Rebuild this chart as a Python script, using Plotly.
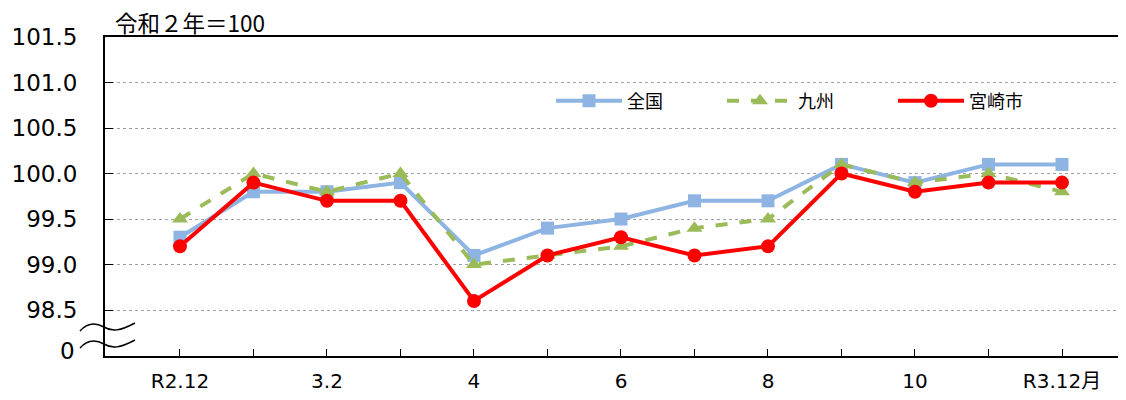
import plotly.graph_objects as go

categories = ["R2.12", "1", "3.2", "3", "4", "5", "6", "7", "8", "9", "10", "11", "R3.12月"]
tick_labels = ["R2.12", "", "3.2", "", "4", "", "6", "", "8", "", "10", "", "R3.12月"]
zenkoku = [99.3, 99.8, 99.8, 99.9, 99.1, 99.4, 99.5, 99.7, 99.7, 100.1, 99.9, 100.1, 100.1]
kyushu = [99.5, 100.0, 99.8, 100.0, 99.0, 99.1, 99.2, 99.4, 99.5, 100.1, 99.9, 100.0, 99.8]
miyazaki = [99.2, 99.9, 99.7, 99.7, 98.6, 99.1, 99.3, 99.1, 99.2, 100.0, 99.8, 99.9, 99.9]
y_ticks = [98.5, 99.0, 99.5, 100.0, 100.5, 101.0, 101.5]
y_tick_text = ["98.5", "99.0", "99.5", "100.0", "100.5", "101.0", "101.5"]

xi = list(range(len(categories)))
FONT = "DejaVu Sans, Noto Sans CJK JP"
JFONT = "Noto Sans CJK JP, DejaVu Sans"

fig = go.Figure()
fig.add_trace(go.Scatter(x=xi, y=zenkoku, name="全国", mode="lines+markers",
                         line=dict(color="#8DB4E2", width=4),
                         marker=dict(symbol="square", size=13, color="#8DB4E2")))
fig.add_trace(go.Scatter(x=xi, y=kyushu, name="九州", mode="lines+markers",
                         line=dict(color="#9BBB59", width=4, dash="dash"),
                         marker=dict(symbol="triangle-up", size=14, color="#9BBB59")))
fig.add_trace(go.Scatter(x=xi, y=miyazaki, name="宮崎市", mode="lines+markers",
                         line=dict(color="#FF0000", width=4),
                         marker=dict(symbol="circle", size=14, color="#FF0000")))

# page has an 8px body margin; work in screenshot pixels and convert
OFF = 8
FW, FH = 1126 - OFF, 400 - 2 * OFF
L, R, T, B = 105, 1126, 37, 356  # plot area in screenshot pixels
W, H = R - L, B - T

def px(x):
    return (x - L) / W

def py(y):
    return (B - y) / H

def wave(y0):
    return (f"M {px(80)},{py(y0+8)} C {px(87)},{py(y0)} {px(95)},{py(y0-1)} {px(104)},{py(y0+4)} "
            f"C {px(112)},{py(y0+9)} {px(120)},{py(y0+8)} {px(135)},{py(y0)}")

shapes = [
    dict(type="path", xref="paper", yref="paper", path=wave(323),
         line=dict(color="black", width=1.5)),
    dict(type="path", xref="paper", yref="paper", path=wave(340),
         line=dict(color="black", width=1.5)),
]

fig.update_layout(
    width=FW, height=FH,
    margin=dict(l=L - OFF, r=0, t=T - OFF, b=FH - (B - OFF), autoexpand=False),
    paper_bgcolor="white", plot_bgcolor="white",
    font=dict(family=FONT, size=20, color="black"),
    showlegend=True,
    legend=dict(orientation="h", x=px(551), y=py(101), xanchor="left", yanchor="middle",
                font=dict(family=JFONT, size=18, color="black"),
                entrywidth=90, entrywidthmode="pixels", bgcolor="rgba(0,0,0,0)",
                traceorder="normal", itemwidth=66),
    xaxis=dict(range=[-1.02, (R - 180) / 73.5], tickmode="array", tickvals=xi,
               ticktext=tick_labels, ticks="inside", ticklen=7, tickcolor="black",
               tickwidth=1, showline=True, linecolor="black", linewidth=2, mirror=True,
               showgrid=False, zeroline=False, ticklabelstandoff=6,
               tickfont=dict(family=FONT, size=20)),
    yaxis=dict(range=[97.995, 101.5], tickmode="array", tickvals=y_ticks,
               ticktext=y_tick_text, ticks="inside", ticklen=8, tickcolor="black",
               showline=True, linecolor="black", linewidth=2,
               showgrid=True, gridcolor="#A0A0A0", griddash="dot", gridwidth=1,
               zeroline=False, ticklabelstandoff=21,
               tickfont=dict(family=FONT, size=23)),
    shapes=shapes,
    annotations=[
        dict(text="令和２年＝100", xref="paper", yref="paper", x=px(113), y=py(22),
             xanchor="left", yanchor="middle", showarrow=False,
             font=dict(family=JFONT, size=22.5, color="black")),
        dict(text="0", xref="paper", yref="paper", x=px(77), y=py(351),
             xanchor="right", yanchor="middle", showarrow=False,
             font=dict(family=FONT, size=23, color="black")),
    ],
)

fig.write_html("out.html")
